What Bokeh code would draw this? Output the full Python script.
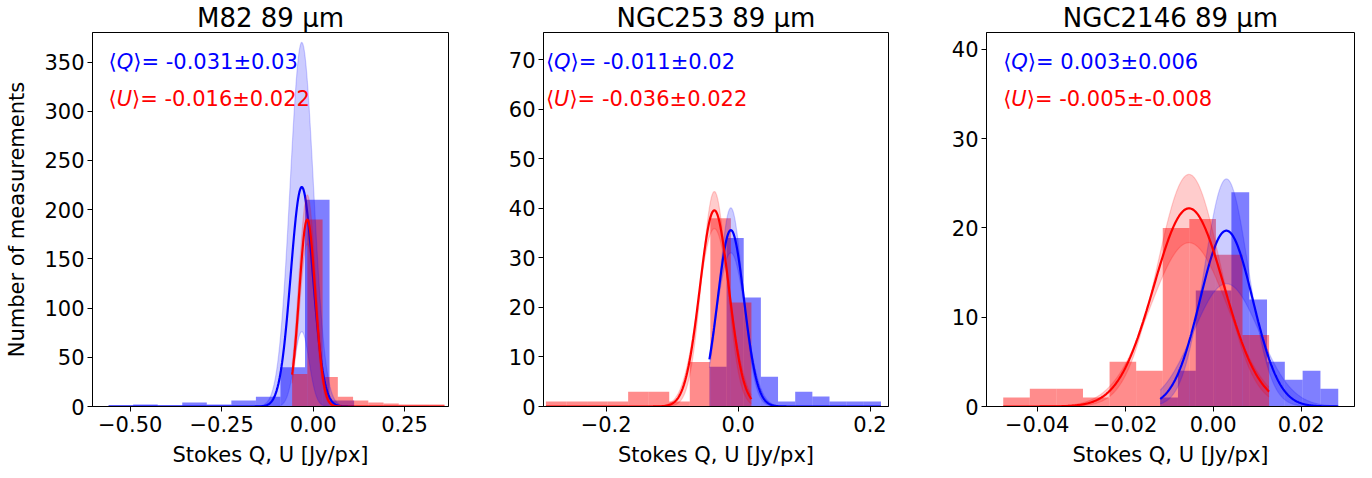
import numpy as np
from bokeh.plotting import figure
from bokeh.layouts import row
from bokeh.models import Range1d, FixedTicker, Label
from bokeh.embed import file_html
from bokeh.resources import INLINE

# ---------------- data ----------------
titles = ["M82 89 μm", "NGC253 89 μm", "NGC2146 89 μm"]

# histogram data ranges (min, max of measurements) and counts per bin (10 bins)
m82_q_range = [-0.559, 0.112]
m82_q_counts = [1, 2, 1, 4, 2, 6, 10, 40, 210, 6]
m82_u_range = [-0.0574, 0.359]
m82_u_counts = [33, 190, 30, 10, 6, 4, 3, 2, 2, 2]

ngc253_q_range = [-0.0435, 0.2166]
ngc253_q_counts = [8, 34, 22, 6, 1, 3, 2, 1, 1, 1]
ngc253_u_range = [-0.2913, 0.0202]
ngc253_u_counts = [1, 1, 1, 1, 3, 3, 1, 9, 38, 21]

ngc2146_q_range = [-0.01205, 0.02841]
ngc2146_q_counts = [1, 4, 13, 13, 24, 12, 5, 3, 4, 2]
ngc2146_u_range = [-0.0477, 0.0127]
ngc2146_u_counts = [1, 2, 2, 1, 5, 4, 20, 21, 17, 8]

# gaussian fits [amplitude, mean, sigma]; band = upper / lower fit curves
m82_q_fit = [223, -0.031, 0.030]
m82_q_hi = [370, -0.031, 0.032]
m82_q_lo = [76, -0.031, 0.020]
m82_u_fit = [190, -0.016, 0.022]
m82_u_hi = [215, -0.016, 0.023]
m82_u_lo = [165, -0.016, 0.021]

ngc253_q_fit = [35.6, -0.011, 0.020]
ngc253_q_hi = [40.1, -0.011, 0.018]
ngc253_q_lo = [31.0, -0.011, 0.022]
ngc253_u_fit = [39.6, -0.036, 0.022]
ngc253_u_hi = [43.4, -0.036, 0.019]
ngc253_u_lo = [35.9, -0.036, 0.024]

ngc2146_q_fit = [19.7, 0.003, 0.006]
ngc2146_q_hi = [25.5, 0.003, 0.005]
ngc2146_q_lo = [13.75, 0.003, 0.0075]
ngc2146_u_fit = [22.2, -0.0055, 0.008]
ngc2146_u_hi = [26.0, -0.0055, 0.0072]
ngc2146_u_lo = [18.35, -0.0055, 0.0088]

q_values = ["= -0.031±0.03", "= -0.011±0.02", "= 0.003±0.006"]
u_values = ["= -0.016±0.022", "= -0.036±0.022", "= -0.005±-0.008"]

x_ticks = [[-0.5, -0.25, 0.0, 0.25], [-0.2, 0.0, 0.2], [-0.04, -0.02, 0.0, 0.02]]
x_tick_labels = [["−0.50", "−0.25", "0.00", "0.25"], ["−0.2", "0.0", "0.2"],
                 ["−0.04", "−0.02", "0.00", "0.02"]]
y_ticks = [list(range(0, 351, 50)), list(range(0, 71, 10)), list(range(0, 41, 10))]

# ---------------- layout ----------------
x_limits = [(-0.603, 0.370), (-0.295, 0.228), (-0.0515, 0.0321)]
y_limits = [(0, 380), (0, 75.5), (0, 41.9)]
frame_w = [356, 345, 368]
border_l = [92, 48, 46]
border_r = [47, 52, 18]
FRAME_H = 374
TOP = 32
BOTTOM = 72
FONT = "DejaVu Sans"
FS = 21
BRACKET_W = 0.386 * FS
LETTER_W = {"Q": 0.787 * FS, "U": 0.732 * FS}

panels = [
    (m82_q_range, m82_q_counts, m82_u_range, m82_u_counts,
     m82_q_fit, m82_q_hi, m82_q_lo, m82_u_fit, m82_u_hi, m82_u_lo),
    (ngc253_q_range, ngc253_q_counts, ngc253_u_range, ngc253_u_counts,
     ngc253_q_fit, ngc253_q_hi, ngc253_q_lo, ngc253_u_fit, ngc253_u_hi, ngc253_u_lo),
    (ngc2146_q_range, ngc2146_q_counts, ngc2146_u_range, ngc2146_u_counts,
     ngc2146_q_fit, ngc2146_q_hi, ngc2146_q_lo, ngc2146_u_fit, ngc2146_u_hi, ngc2146_u_lo),
]


def gauss(x, p):
    a, mu, s = p
    return a * np.exp(-0.5 * ((x - mu) / s) ** 2)


figs = []
for i, (qr, qc, ur, uc, qf, qh, ql, uf, uh, ul) in enumerate(panels):
    p = figure(frame_width=frame_w[i], frame_height=FRAME_H,
               x_range=Range1d(*x_limits[i]), y_range=Range1d(*y_limits[i]),
               output_backend="svg", toolbar_location=None,
               min_border_left=border_l[i], min_border_right=border_r[i],
               min_border_top=TOP, min_border_bottom=BOTTOM)
    p.title.text = titles[i]
    p.title.align = "center"
    p.title.text_font = FONT
    p.title.text_font_size = "26px"
    p.title.text_font_style = "normal"
    p.title.text_color = "black"
    p.title.standoff = 0
    p.grid.visible = False
    p.outline_line_color = "black"
    p.outline_line_width = 1
    p.background_fill_color = "white"
    p.border_fill_color = "white"

    # histograms
    for rng, counts, col, alpha in [(qr, qc, "blue", 0.5), (ur, uc, "red", 0.45)]:
        edges = np.linspace(rng[0], rng[1], len(counts) + 1)
        p.quad(left=edges[:-1], right=edges[1:], bottom=0, top=counts,
               fill_color=col, fill_alpha=alpha, line_color=None)

    # fits
    for rng, fit, hi, lo, col in [(qr, qf, qh, ql, "blue"), (ur, uf, uh, ul, "red")]:
        xs = np.linspace(rng[0], rng[1], 400)
        yh = gauss(xs, hi)
        yl = gauss(xs, lo)
        p.varea(x=xs, y1=yl, y2=yh, fill_color=col, fill_alpha=0.2)
        p.line(xs, yh, line_color=col, line_alpha=0.18, line_width=1.2)
        p.line(xs, yl, line_color=col, line_alpha=0.18, line_width=1.2)
        p.line(xs, gauss(xs, fit), line_color=col, line_width=2.2)

    # annotations: ⟨Q⟩ / ⟨U⟩ with italic letter
    ymax = y_limits[i][1]
    xmin_data = min(qr[0], ur[0])
    for letter, rest, col, cy in [("Q", q_values[i], "blue", 61), ("U", u_values[i], "red", 98)]:
        yy = ymax * (1 - (cy - TOP) / FRAME_H)
        common = dict(y=yy, text_color=col, text_font=FONT, text_font_size=f"{FS}px",
                      text_baseline="middle", text_align="left")
        p.add_layout(Label(x=xmin_data, x_offset=0, text="⟨", **common))
        p.add_layout(Label(x=xmin_data, x_offset=BRACKET_W, text=letter,
                           text_font_style="italic", **common))
        p.add_layout(Label(x=xmin_data, x_offset=BRACKET_W + LETTER_W[letter],
                           text="⟩" + rest, **common))

    # axes
    for ax in (p.xaxis, p.yaxis):
        ax.axis_line_color = "black"
        ax.major_tick_in = 0
        ax.major_tick_out = 5
        ax.major_tick_line_color = "black"
        ax.minor_tick_line_color = None
        ax.major_label_text_font = FONT
        ax.major_label_text_font_size = "21px"
        ax.major_label_text_color = "black"
        ax.axis_label_text_font = FONT
        ax.axis_label_text_font_size = "21px"
        ax.axis_label_text_font_style = "normal"
        ax.axis_label_text_color = "black"
    p.xaxis.ticker = FixedTicker(ticks=x_ticks[i])
    p.xaxis.major_label_overrides = {t: l for t, l in zip(x_ticks[i], x_tick_labels[i])}
    p.xaxis.major_label_standoff = 4
    p.xaxis.axis_label = "Stokes Q, U [Jy/px]"
    p.xaxis.axis_label_standoff = 8
    p.yaxis.ticker = FixedTicker(ticks=y_ticks[i])
    p.yaxis.major_label_standoff = 3
    if i == 0:
        p.yaxis.axis_label = "Number of measurements"
        p.yaxis.axis_label_standoff = 12
    figs.append(p)

layout = row(*figs)
open("out.html", "w").write(file_html(layout, INLINE))
